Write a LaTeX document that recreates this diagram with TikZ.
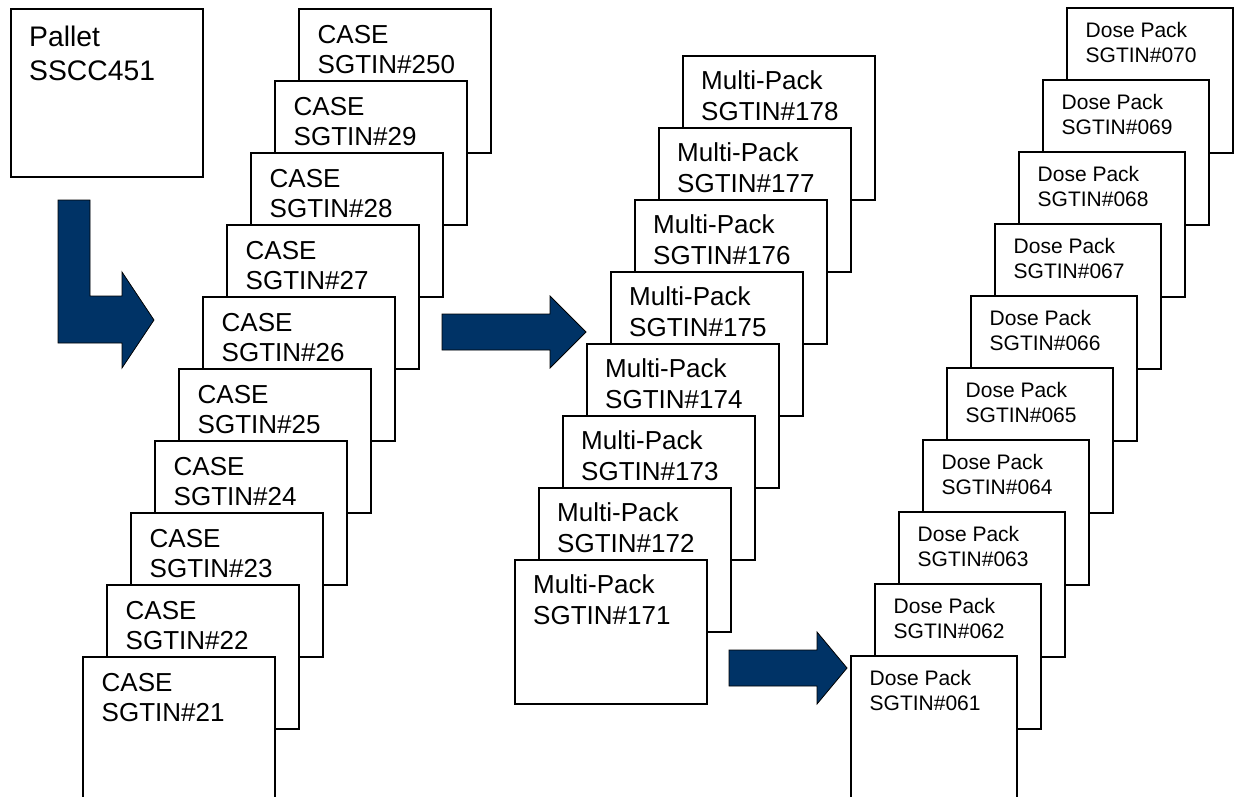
\documentclass[tikz,border=0pt]{standalone}
\usepackage{fontspec}
\setmainfont{Liberation Sans}
\definecolor{packblue}{RGB}{0,51,102}
\begin{document}
\begin{tikzpicture}[x=1pt,y=-1pt,
  unitbox/.style={draw=black,line width=1.8pt,fill=white,inner sep=0pt,
    anchor=north west,minimum width=192pt,minimum height=144pt},
  dosebox/.style={unitbox,minimum width=166pt,minimum height=145pt},
  bigtxt/.style={anchor=base west,align=left,inner sep=0pt,
    font=\fontsize{26}{30.5}\selectfont},
  mptxt/.style={bigtxt,font=\fontsize{26}{31}\selectfont},
  dosetxt/.style={anchor=base west,align=left,inner sep=0pt,
    font=\fontsize{21}{24.5}\selectfont},
  blockarrow/.style={fill=packblue,draw=black,line width=0.8pt,line join=miter}]
\clip (0,0) rectangle (1234,796);
\fill[white] (0,0) rectangle (1234,796);

% pallet (text anchored on the baseline of its last line)
\node[unitbox,minimum height=168pt] (pallet) at (10,8) {};
\node[anchor=base west,align=left,inner sep=0pt,
  font=\fontsize{28.3}{34}\selectfont] (pallettxt) at (29,80) {Pallet\\SSCC451};

% pallet -> cases
\path[blockarrow] (58,200) -- (90,200) -- (90,296) -- (122,296) -- (122,272)
  -- (154,320) -- (122,368) -- (122,343) -- (58,343) -- cycle;
% cases -> multi-packs
\path[blockarrow] (442,314) -- (550,314) -- (550,296) -- (586,332)
  -- (550,368) -- (550,350) -- (442,350) -- cycle;
% multi-packs -> dose packs
\path[blockarrow] (729,650) -- (817,650) -- (817,632) -- (847,668)
  -- (817,704) -- (817,686) -- (729,686) -- cycle;

% case stack, back to front
\foreach \lab [count=\i from 0] in {250,29,28,27,26,25,24,23,22,21} {
  \pgfmathsetmacro\bx{298-24*\i}
  \pgfmathsetmacro\by{8+72*\i}
  \node[unitbox] (case\lab) at (\bx,\by) {};
  \node[bigtxt] (case\lab txt) at (\bx+19.5,\by+65.5) {CASE\\SGTIN\#\lab};
}

% multi-pack stack
\foreach \lab [count=\i from 0] in {178,177,176,175,174,173,172,171} {
  \pgfmathsetmacro\bx{682-24*\i}
  \pgfmathsetmacro\by{55+72*\i}
  \node[unitbox] (mp\lab) at (\bx,\by) {};
  \node[mptxt] (mp\lab txt) at (\bx+19,\by+65.5) {Multi-Pack\\SGTIN\#\lab};
}

% dose pack stack
\foreach \lab [count=\i from 0] in {070,069,068,067,066,065,064,063,062,061} {
  \pgfmathsetmacro\bx{1066-24*\i}
  \pgfmathsetmacro\by{7+72*\i}
  \node[dosebox] (dp\lab) at (\bx,\by) {};
  \node[dosetxt] (dp\lab txt) at (\bx+19.5,\by+55) {Dose Pack\\SGTIN\#\lab};
}
\end{tikzpicture}
\end{document}
